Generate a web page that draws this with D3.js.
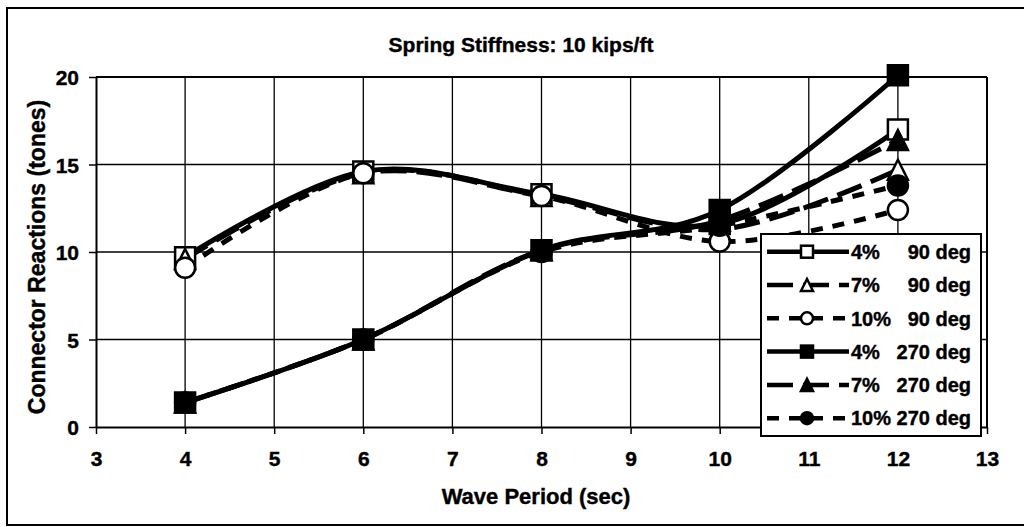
<!DOCTYPE html>
<html>
<head>
<meta charset="utf-8">
<script src="https://cdn.jsdelivr.net/npm/d3@7"></script>
<style>
  html, body { margin: 0; padding: 0; background: #fff; }
  svg { display: block; }
  text { font-family: "Liberation Sans", Arial, sans-serif; font-weight: bold; fill: #000; stroke: #000; stroke-width: 0.4px; }
</style>
</head>
<body>
<svg id="chart" width="1024" height="527"></svg>
<script>
// ---- data ----
const periods = [4, 6, 8, 10, 12];
const xTicks = [3, 4, 5, 6, 7, 8, 9, 10, 11, 12, 13];
const yTicks = [0, 5, 10, 15, 20];

const pct4_90  = [9.7, 14.6, 13.3, 11.6, 17.0];
const pct7_90  = [9.6, 14.5, 13.2, 11.3, 14.7];
const pct10_90 = [9.1, 14.5, 13.2, 10.6, 12.4];
const pct4_270  = [1.4, 5.0, 10.1, 12.4, 20.1];
const pct7_270  = [1.4, 5.0, 10.1, 11.8, 16.4];
const pct10_270 = [1.4, 5.0, 10.0, 11.5, 13.8];

const seriesPct   = ["4%", "7%", "10%", "4%", "7%", "10%"];
const seriesAngle = ["90 deg", "90 deg", "90 deg", "270 deg", "270 deg", "270 deg"];
const seriesValues = [pct4_90, pct7_90, pct10_90, pct4_270, pct7_270, pct10_270];
const seriesMarker = ["square", "triangle", "circle", "square", "triangle", "circle"];
const seriesFilled = [false, false, false, true, true, true];
const seriesDash   = ["none", "26,10", "12,10", "none", "26,10", "12,10"];

const title = "Spring Stiffness: 10 kips/ft";
const xLabel = "Wave Period (sec)";
const yLabel = "Connector Reactions (tones)";

// ---- layout ----
const svg = d3.select("#chart");
const L = 96, R = 987, T = 77, B = 427;
const x = d3.scaleLinear().domain([3, 13]).range([L, R]);
const y = d3.scaleLinear().domain([0, 20]).range([B, T]);

// outer frame
svg.append("rect").attr("x", 7).attr("y", 8).attr("width", 1040).attr("height", 517)
  .attr("fill", "none").attr("stroke", "#000").attr("stroke-width", 2);

// grid
const g = svg.append("g");
g.selectAll("line.vg").data(xTicks.slice(1)).join("line")
  .attr("x1", d => x(d)).attr("x2", d => x(d)).attr("y1", T).attr("y2", B)
  .attr("stroke", "#000").attr("stroke-width", 1.3);
g.selectAll("line.hg").data(yTicks.slice(1)).join("line")
  .attr("x1", L).attr("x2", R).attr("y1", d => y(d)).attr("y2", d => y(d))
  .attr("stroke", "#000").attr("stroke-width", 1.3);

// axes
const xAxis = d3.axisBottom(x).tickValues(xTicks).tickSize(7).tickSizeOuter(0).tickFormat(d3.format("d"));
const yAxis = d3.axisLeft(y).tickValues(yTicks).tickSize(7).tickSizeOuter(0).tickFormat(d3.format("d"));
const gx = svg.append("g").attr("transform", `translate(0,${B})`).call(xAxis);
const gy = svg.append("g").attr("transform", `translate(${L},0)`).call(yAxis);
[gx, gy].forEach(a => {
  a.select(".domain").attr("stroke", "#000").attr("stroke-width", 2);
  a.selectAll(".tick line").attr("stroke", "#000").attr("stroke-width", 1.5);
  a.selectAll(".tick text").attr("font-size", 21).attr("font-family", "Liberation Sans, Arial, sans-serif")
    .attr("font-weight", "bold").attr("fill", "#000");
});
gx.selectAll(".tick text").attr("dy", null).attr("y", 39);
gy.selectAll(".tick text").attr("x", -17).attr("dy", "0.36em");

// plot frame top/right
svg.append("line").attr("x1", L).attr("x2", R).attr("y1", T).attr("y2", T).attr("stroke", "#000").attr("stroke-width", 2);
svg.append("line").attr("x1", R).attr("x2", R).attr("y1", T).attr("y2", B).attr("stroke", "#000").attr("stroke-width", 2);

// titles
svg.append("text").attr("x", 521).attr("y", 52).attr("text-anchor", "middle").attr("font-size", 21).text(title);
svg.append("text").attr("x", 536).attr("y", 504).attr("text-anchor", "middle").attr("font-size", 22).text(xLabel);
svg.append("text").attr("transform", "translate(45,257) rotate(-90)").attr("text-anchor", "middle")
  .attr("font-size", 23).text(yLabel);

// markers
function drawMarker(sel, type, cx, cy, size, filled) {
  const fill = filled ? "#000" : "#fff";
  if (type === "square") {
    sel.append("rect").attr("x", cx - size / 2).attr("y", cy - size / 2).attr("width", size).attr("height", size)
      .attr("fill", fill).attr("stroke", "#000").attr("stroke-width", 2.5);
  } else if (type === "circle") {
    sel.append("circle").attr("cx", cx).attr("cy", cy).attr("r", size / 2)
      .attr("fill", fill).attr("stroke", "#000").attr("stroke-width", 2.5);
  } else {
    const h = size;
    sel.append("path")
      .attr("d", `M${cx},${cy - h / 2}L${cx + size / 2},${cy + h / 2}L${cx - size / 2},${cy + h / 2}Z`)
      .attr("fill", fill).attr("stroke", "#000").attr("stroke-width", 2.5);
  }
}

const line = d3.line().x((d, i) => x(periods[i])).y(d => y(d)).curve(d3.curveCardinal.tension(0));
const plot = svg.append("g");
seriesValues.forEach((vals, si) => {
  plot.append("path").attr("d", line(vals)).attr("fill", "none").attr("stroke", "#000")
    .attr("stroke-width", 5).attr("stroke-dasharray", seriesDash[si]);
});
seriesValues.forEach((vals, si) => {
  const mg = plot.append("g");
  vals.forEach((v, i) => drawMarker(mg, seriesMarker[si], x(periods[i]), y(v), 20, seriesFilled[si]));
});

// legend
const lg = svg.append("g");
lg.append("rect").attr("x", 761).attr("y", 234).attr("width", 220).attr("height", 202)
  .attr("fill", "#fff").attr("stroke", "#000").attr("stroke-width", 2);
seriesPct.forEach((p, i) => {
  const cy = 251.7 + i * 33.3;
  lg.append("line").attr("x1", 767).attr("x2", 849).attr("y1", cy).attr("y2", cy)
    .attr("stroke", "#000").attr("stroke-width", 4.5).attr("stroke-dasharray", seriesDash[i]);
  drawMarker(lg, seriesMarker[i], 807, cy, 12, seriesFilled[i]);
  lg.append("text").attr("x", 851).attr("y", cy).attr("dy", "0.36em").attr("font-size", 20).text(p);
  lg.append("text").attr("x", 971).attr("y", cy).attr("dy", "0.36em").attr("text-anchor", "end")
    .attr("font-size", 20).text(seriesAngle[i]);
});
</script>
</body>
</html>
